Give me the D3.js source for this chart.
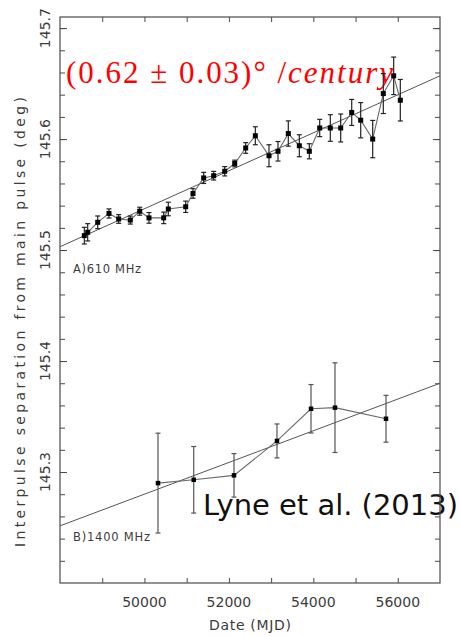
<!DOCTYPE html>
<html>
<head>
<meta charset="utf-8">
<script src="https://cdn.jsdelivr.net/npm/d3@7"></script>
<style>
  body { margin: 0; background: #fff; }
</style>
</head>
<body>
<script>
// 610 MHz series (panel A)
var mjdA = [48576, 48656, 48893, 49160, 49390, 49665, 49888, 50108, 50456, 50565, 50977,
            51150, 51403, 51640, 51901, 52138, 52398, 52626, 52950, 53163, 53407, 53668,
            53905, 54151, 54402, 54648, 54909, 55122, 55406, 55657, 55903, 56060];
var sepA = [145.513, 145.516, 145.525, 145.533, 145.528, 145.527, 145.535, 145.529, 145.529, 145.537, 145.539,
            145.551, 145.565, 145.567, 145.571, 145.578, 145.592, 145.603, 145.585, 145.589, 145.605, 145.594,
            145.589, 145.610, 145.610, 145.610, 145.624, 145.617, 145.600, 145.641, 145.657, 145.635];
var errA = [0.0075, 0.0078, 0.0057, 0.0041, 0.0039, 0.0036, 0.0036, 0.0048, 0.0052, 0.0061, 0.0051,
            0.0043, 0.0050, 0.0039, 0.0042, 0.0030, 0.0048, 0.0081, 0.0099, 0.0088, 0.0114, 0.0099,
            0.0068, 0.0078, 0.0120, 0.0126, 0.0117, 0.0159, 0.0168, 0.0180, 0.0169, 0.0187];

// 1400 MHz series (panel B)
var mjdB = [50321, 51167, 52121, 53139, 53945, 54513, 55721];
var sepB = [145.290, 145.293, 145.297, 145.328, 145.357, 145.358, 145.348];
var errB = [0.045, 0.030, 0.0196, 0.0153, 0.0218, 0.0404, 0.0211];

// straight line fits, value at each end of the date range
var fitX = [48000, 57000];
var fitA = [145.503, 145.657];
var fitB = [145.2515, 145.380];

var xTicks = [50000, 52000, 54000, 56000];
var yTicks = [145.3, 145.4, 145.5, 145.6, 145.7];

// set the dimensions and margins of the graph
var margin = {top: 17, right: 20, bottom: 53, left: 60},
    width = 460 - margin.left - margin.right,
    height = 636 - margin.top - margin.bottom;

var svg = d3.select("body")
  .append("svg")
    .attr("width", 460)
    .attr("height", 636)
  .append("g")
    .attr("transform", "translate(" + margin.left + "," + margin.top + ")");

var x = d3.scaleLinear().domain([48000, 57000]).range([0, width]);
var y = d3.scaleLinear().domain([145.2, 145.71]).range([height, 0]);

var frameCol = "#4a4a4a";
var textCol = "#3c3c3c";

// annotations that sit under the data
svg.append("text")
  .attr("x", 6)
  .attr("y", 66)
  .style("font-family", "'Liberation Serif', 'DejaVu Serif', serif")
  .style("font-size", "31px")
  .attr("fill", "#ff0000")
  .attr("textLength", 327)
  .attr("lengthAdjust", "spacing")
  .text("(0.62 \u00b1 0.03)\u00b0 /")
  .append("tspan")
    .style("font-style", "italic")
    .text("century");

svg.append("text")
  .attr("x", 143)
  .attr("y", 498)
  .style("font-family", "'DejaVu Sans', sans-serif")
  .style("font-size", "29px")
  .attr("fill", "#111")
  .attr("textLength", 255)
  .text("Lyne et al. (2013)");

// axes: ticks on all four sides, pointing inwards
var xMinor = d3.range(49000, 57000, 1000);
var yMinor = d3.range(145.22, 145.71, 0.02);

svg.append("g")
  .attr("transform", "translate(0," + height + ")")
  .call(d3.axisTop(x).tickValues(xMinor).tickSize(5).tickFormat(""));
svg.append("g")
  .call(d3.axisBottom(x).tickValues(xMinor).tickSize(5).tickFormat(""));
svg.append("g")
  .call(d3.axisRight(y).tickValues(yMinor).tickSize(5).tickFormat(""));
svg.append("g")
  .call(d3.axisRight(y).tickValues(yTicks).tickSize(7).tickFormat(""));
svg.append("g")
  .attr("transform", "translate(" + width + ",0)")
  .call(d3.axisLeft(y).tickValues(yMinor).tickSize(5).tickFormat(""));
svg.append("g")
  .attr("transform", "translate(" + width + ",0)")
  .call(d3.axisLeft(y).tickValues(yTicks).tickSize(7).tickFormat(""));
svg.selectAll(".domain").remove();
svg.selectAll(".tick line").attr("stroke", frameCol);

svg.append("rect")
  .attr("width", width)
  .attr("height", height)
  .attr("fill", "none")
  .attr("stroke", frameCol)
  .attr("stroke-width", 1.2);

// tick labels
svg.selectAll(".xlab")
  .data(xTicks)
  .enter()
  .append("text")
    .attr("x", function(d) { return x(d); })
    .attr("y", height + 24)
    .attr("text-anchor", "middle")
    .style("font-family", "'DejaVu Sans', sans-serif")
    .style("font-size", "14px")
    .attr("fill", textCol)
    .text(function(d) { return d; });

svg.selectAll(".ylab")
  .data(yTicks)
  .enter()
  .append("text")
    .attr("transform", function(d) { return "translate(-10," + y(d) + ")rotate(-90)"; })
    .attr("text-anchor", "middle")
    .style("font-family", "'DejaVu Sans', sans-serif")
    .style("font-size", "14px")
    .attr("fill", textCol)
    .text(function(d) { return d3.format(".1f")(d); });

svg.append("text")
  .attr("x", 250 - margin.left)
  .attr("y", height + 47)
  .attr("text-anchor", "middle")
  .style("font-family", "'DejaVu Sans', sans-serif")
  .style("font-size", "14px")
  .attr("fill", textCol)
  .attr("textLength", 82)
  .text("Date (MJD)");

svg.append("text")
  .attr("transform", "translate(-35," + (322 - margin.top) + ")rotate(-90)")
  .attr("text-anchor", "middle")
  .style("font-family", "'DejaVu Sans', sans-serif")
  .style("font-size", "14px")
  .attr("fill", textCol)
  .attr("textLength", 450)
  .text("Interpulse separation from main pulse (deg)");

svg.append("text")
  .attr("x", 13)
  .attr("y", 272.5 - margin.top)
  .style("font-family", "'DejaVu Sans', sans-serif")
  .style("font-size", "11.5px")
  .attr("fill", textCol)
  .attr("textLength", 68)
  .text("A)610 MHz");

svg.append("text")
  .attr("x", 13)
  .attr("y", 540.5 - margin.top)
  .style("font-family", "'DejaVu Sans', sans-serif")
  .style("font-size", "11.5px")
  .attr("fill", textCol)
  .attr("textLength", 77)
  .text("B)1400 MHz");

// one panel: fit line, joining line, error bars, square markers
function drawSeries(mjd, sep, err, fit, barCol, size) {
  var pts = mjd.map(function(d, i) { return {x: d, y: sep[i], e: err[i]}; });

  svg.append("line")
    .attr("x1", x(fitX[0])).attr("y1", y(fit[0]))
    .attr("x2", x(fitX[1])).attr("y2", y(fit[1]))
    .attr("stroke", "#555")
    .attr("stroke-width", 1);

  svg.append("path")
    .datum(pts)
    .attr("fill", "none")
    .attr("stroke", "#6a6a6a")
    .attr("stroke-width", 1.1)
    .attr("d", d3.line().x(function(d) { return x(d.x); }).y(function(d) { return y(d.y); }));

  var bars = svg.append("g").attr("stroke", barCol).attr("stroke-width", 1.2);
  bars.selectAll("line.v")
    .data(pts)
    .enter()
    .append("line")
      .attr("x1", function(d) { return x(d.x); })
      .attr("x2", function(d) { return x(d.x); })
      .attr("y1", function(d) { return y(d.y - d.e); })
      .attr("y2", function(d) { return y(d.y + d.e); });
  [-1, 1].forEach(function(s) {
    bars.selectAll("line.c" + s)
      .data(pts)
      .enter()
      .append("line")
        .attr("x1", function(d) { return x(d.x) - 2.5; })
        .attr("x2", function(d) { return x(d.x) + 2.5; })
        .attr("y1", function(d) { return y(d.y + s * d.e); })
        .attr("y2", function(d) { return y(d.y + s * d.e); });
  });

  svg.selectAll(null)
    .data(pts)
    .enter()
    .append("rect")
      .attr("x", function(d) { return x(d.x) - size / 2; })
      .attr("y", function(d) { return y(d.y) - size / 2; })
      .attr("width", size)
      .attr("height", size)
      .attr("fill", "#000");
}

drawSeries(mjdA, sepA, errA, fitA, "#222", 5);
drawSeries(mjdB, sepB, errB, fitB, "#555", 4.5);
</script>
</body>
</html>
